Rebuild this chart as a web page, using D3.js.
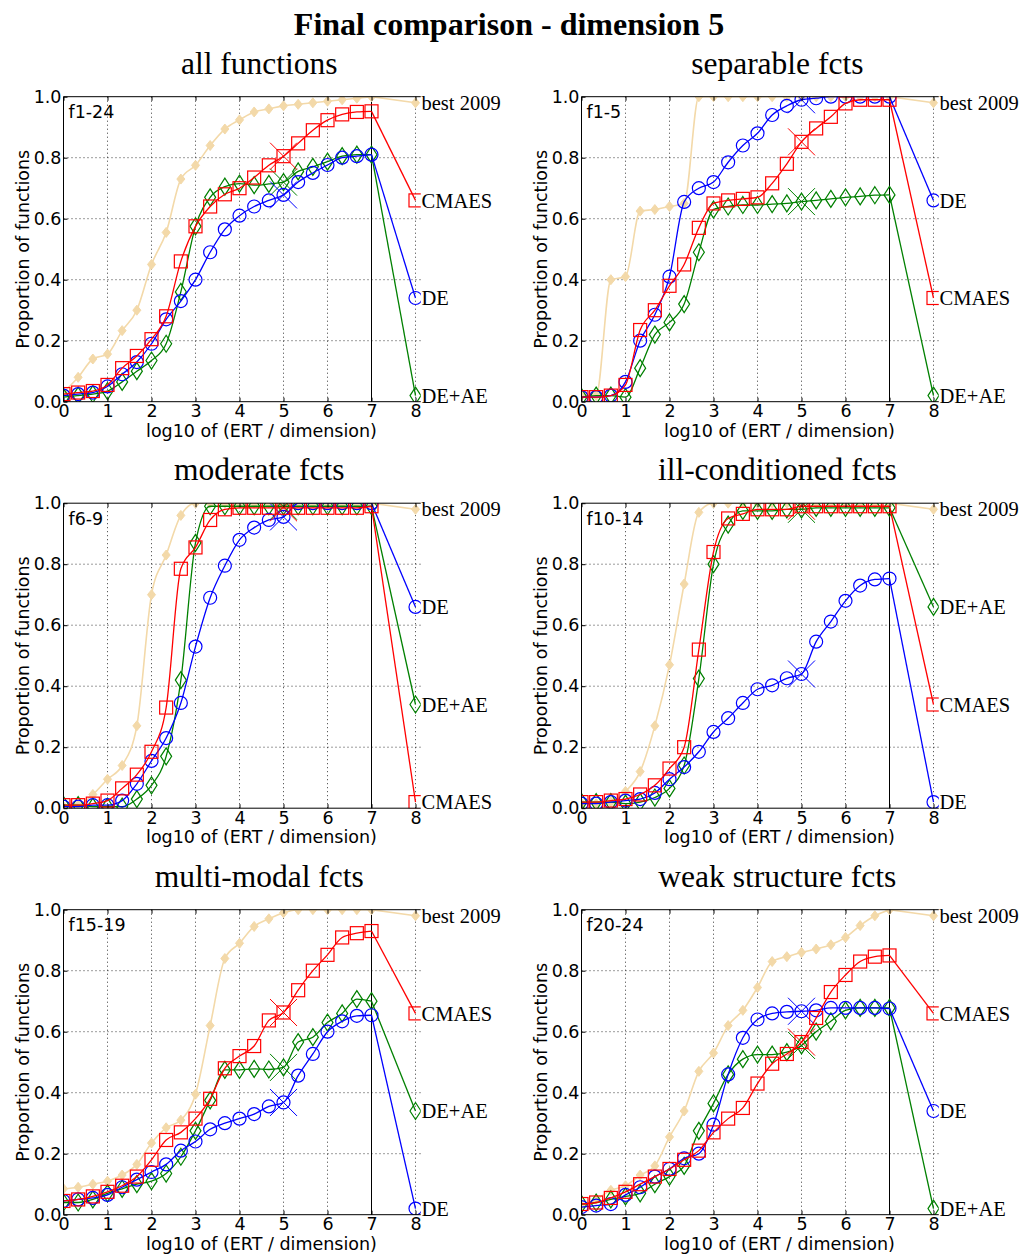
<!DOCTYPE html>
<html><head><meta charset="utf-8">
<script src="https://cdn.jsdelivr.net/npm/d3@7"></script>
<style>body{margin:0;background:#fff} svg{display:block}</style>
</head><body>
<script>
// ---------- DATA ----------
const xMarks = [0,0.333,0.667,1,1.333,1.667,2,2.333,2.667,3,3.333,3.667,4,4.333,4.667,5,5.333,5.667,6,6.333,6.667,7];
const panelTitles = ["all functions","separable fcts","moderate fcts","ill-conditioned fcts","multi-modal fcts","weak structure fcts"];
const funcLabels = ["f1-24","f1-5","f6-9","f10-14","f15-19","f20-24"];
const seriesNames = ["best 2009","CMAES","DE","DE+AE"];
const xTicks = [0,1,2,3,4,5,6,7,8];
const yTicks = [0,0.2,0.4,0.6,0.8,1.0];

const best2009 = [
 [0.03,0.08,0.14,0.156,0.233,0.30,0.45,0.555,0.73,0.775,0.84,0.894,0.924,0.95,0.96,0.97,0.975,0.98,0.985,0.99,0.995,1.0],
 [0.02,0.02,0.40,0.41,0.625,0.63,0.64,0.65,1,1,1,1,1,1,1,1,1,1,1,1,1,1],
 [0.005,0.01,0.045,0.095,0.14,0.27,0.70,0.83,0.96,1,1,1,1,1,1,1,1,1,1,1,1,1],
 [0.015,0.015,0.02,0.055,0.12,0.27,0.47,0.735,0.97,1,1,1,1,1,1,1,1,1,1,1,1,1],
 [0.085,0.09,0.10,0.11,0.13,0.165,0.235,0.285,0.31,0.395,0.62,0.84,0.89,0.945,0.97,0.99,1,1,1,1,1,1],
 [0.03,0.05,0.08,0.095,0.13,0.16,0.255,0.34,0.47,0.53,0.62,0.67,0.745,0.83,0.846,0.86,0.871,0.885,0.909,0.948,0.98,1.0]
];
const cmaes = [
 [0.025,0.03,0.035,0.055,0.11,0.15,0.205,0.28,0.46,0.575,0.64,0.68,0.70,0.735,0.775,0.805,0.847,0.89,0.923,0.942,0.95,0.952],
 [0.015,0.015,0.02,0.055,0.235,0.30,0.38,0.45,0.57,0.65,0.66,0.665,0.67,0.716,0.78,0.852,0.896,0.934,0.978,0.99,0.99,0.99],
 [0.01,0.01,0.015,0.025,0.065,0.11,0.185,0.33,0.785,0.855,0.945,0.98,0.985,0.985,0.985,0.985,0.985,0.985,0.985,0.985,0.985,0.99],
 [0.02,0.02,0.025,0.03,0.045,0.075,0.13,0.20,0.52,0.84,0.95,0.965,0.98,0.98,0.98,0.99,0.99,0.99,0.99,0.99,0.99,0.99],
 [0.045,0.05,0.06,0.075,0.095,0.125,0.18,0.245,0.27,0.315,0.38,0.48,0.52,0.553,0.637,0.663,0.736,0.80,0.852,0.909,0.923,0.93],
 [0.035,0.04,0.055,0.075,0.10,0.125,0.15,0.18,0.21,0.27,0.315,0.35,0.43,0.495,0.527,0.566,0.645,0.73,0.786,0.83,0.846,0.85]
];
const de = [
 [0.02,0.025,0.03,0.05,0.09,0.13,0.19,0.27,0.33,0.40,0.49,0.565,0.61,0.64,0.66,0.678,0.72,0.75,0.776,0.80,0.805,0.81],
 [0.015,0.015,0.02,0.065,0.20,0.285,0.41,0.655,0.70,0.72,0.785,0.84,0.88,0.94,0.97,0.99,0.995,1,1,1,1,1],
 [0.005,0.005,0.01,0.01,0.025,0.08,0.155,0.23,0.345,0.53,0.69,0.795,0.88,0.92,0.945,0.955,1,1,1,1,1,1],
 [0.015,0.015,0.02,0.025,0.03,0.05,0.095,0.135,0.185,0.25,0.295,0.345,0.39,0.403,0.426,0.44,0.546,0.612,0.68,0.73,0.75,0.753],
 [0.045,0.05,0.055,0.065,0.09,0.115,0.14,0.165,0.21,0.24,0.28,0.30,0.315,0.33,0.355,0.368,0.456,0.527,0.60,0.634,0.652,0.654],
 [0.025,0.03,0.035,0.065,0.09,0.125,0.15,0.185,0.20,0.295,0.46,0.58,0.64,0.66,0.665,0.667,0.67,0.678,0.678,0.678,0.678,0.676]
];
const deae = [
 [0.015,0.02,0.025,0.035,0.065,0.10,0.135,0.19,0.36,0.575,0.67,0.705,0.715,0.71,0.714,0.72,0.755,0.77,0.787,0.805,0.81,0.81],
 [0.015,0.02,0.02,0.015,0.11,0.22,0.26,0.32,0.49,0.63,0.64,0.645,0.645,0.648,0.65,0.656,0.66,0.665,0.67,0.673,0.677,0.678],
 [0.01,0.01,0.005,0.005,0.005,0.03,0.075,0.17,0.42,0.87,0.99,0.99,0.99,0.99,0.99,0.99,0.99,0.99,0.99,0.99,0.99,0.99],
 [0.02,0.02,0.02,0.015,0.02,0.035,0.065,0.14,0.425,0.80,0.93,0.975,0.975,0.975,0.98,0.98,0.985,0.985,0.985,0.985,0.985,0.985],
 [0.04,0.04,0.05,0.07,0.085,0.10,0.11,0.135,0.19,0.275,0.375,0.475,0.475,0.478,0.476,0.483,0.566,0.582,0.63,0.66,0.707,0.70],
 [0.035,0.04,0.05,0.06,0.07,0.10,0.125,0.16,0.275,0.365,0.46,0.51,0.525,0.525,0.533,0.555,0.60,0.634,0.67,0.678,0.678,0.678]
];
// label positions at x = 8 : [best 2009, CMAES, DE, DE+AE]
const endY = [
 [0.98,0.66,0.34,0.02],
 [0.98,0.34,0.66,0.02],
 [0.98,0.02,0.66,0.34],
 [0.98,0.34,0.02,0.66],
 [0.98,0.66,0.02,0.34],
 [0.98,0.66,0.34,0.02]
];
const maxEvalX = 5;

// ---------- LAYOUT ----------
const W = 1023, H = 1255;
const colLeft = [63.5, 581.5];
const rowTop = [96.7, 503.2, 909.7];
const plotW8 = 352, plotH = 305, xMax = 8.12;
const SANS = "DejaVu Sans", SERIF = "Liberation Serif";
const colors = {"best 2009":"#f3d9a9","CMAES":"#ff0000","DE":"#0000ff","DE+AE":"#008000"};

const svg = d3.select("body").append("svg").attr("width", W).attr("height", H);

svg.append("text").attr("x", 509).attr("y", 35).attr("text-anchor","middle")
  .attr("font-family", SERIF).attr("font-weight","bold").attr("font-size", 32)
  .text("Final comparison - dimension 5");

const sym = {
  circle: g => g.append("circle").attr("r", 6.5),
  square: g => g.append("rect").attr("x",-6.5).attr("y",-6.5).attr("width",13).attr("height",13),
  diamond: g => g.append("path").attr("d","M0,-8.5L5.5,0L0,8.5L-5.5,0Z"),
  best: g => g.append("path").attr("d","M0,-5L4,0L0,5L-4,0Z")
};

for (let p = 0; p < 6; p++) {
  const L = colLeft[p % 2], T = rowTop[Math.floor(p / 2)];
  const x = d3.scaleLinear().domain([0, 8]).range([L, L + plotW8]);
  const y = d3.scaleLinear().domain([0, 1]).range([T + plotH, T]);
  const g = svg.append("g");

  const clipId = "clip" + p;
  svg.append("clipPath").attr("id", clipId).append("rect")
    .attr("x", x(0)).attr("y", y(1)).attr("width", x(xMax) - x(0)).attr("height", y(0) - y(1));

  // grid
  g.selectAll(".vg").data(xTicks.filter(d => d > 0)).join("line")
    .attr("x1", d => x(d)).attr("x2", d => x(d)).attr("y1", y(0)).attr("y2", y(1))
    .attr("stroke", "#222").attr("stroke-width", 0.9).attr("stroke-dasharray", "1,3");
  g.selectAll(".hg").data(yTicks.filter(d => d > 0 && d < 1)).join("line")
    .attr("x1", x(0)).attr("x2", x(xMax)).attr("y1", d => y(d)).attr("y2", d => y(d))
    .attr("stroke", "#222").attr("stroke-width", 0.9).attr("stroke-dasharray", "1,3");
  // vertical line at 7
  g.append("line").attr("x1", x(7)).attr("x2", x(7)).attr("y1", y(0)).attr("y2", y(1))
    .attr("stroke", "#000").attr("stroke-width", 1);

  const plot = g.append("g").attr("clip-path", `url(#${clipId})`);
  const all = [
    {name:"best 2009", vals:best2009[p], sym:"best", end:endY[p][0]},
    {name:"DE+AE", vals:deae[p], sym:"diamond", end:endY[p][3]},
    {name:"DE", vals:de[p], sym:"circle", end:endY[p][2]},
    {name:"CMAES", vals:cmaes[p], sym:"square", end:endY[p][1]}
  ];
  const line = d3.line().x(d => x(d[0])).y(d => y(d[1])).curve(d3.curveMonotoneX);
  all.forEach(s => {
    const c = colors[s.name];
    const pts = xMarks.map((xv, i) => [xv, s.vals[i]]);
    plot.append("path").attr("d", line(pts)).attr("fill","none").attr("stroke", c)
      .attr("stroke-width", s.name === "best 2009" ? 1.6 : 1.3);
    plot.append("path").attr("d", d3.line().x(d => x(d[0])).y(d => y(d[1]))([pts[pts.length-1], [8, s.end]]))
      .attr("fill","none").attr("stroke", c).attr("stroke-width", s.name === "best 2009" ? 1.6 : 1.3);
    const mk = pts.concat([[8, s.end]]);
    mk.forEach(d => {
      const mg = plot.append("g").attr("transform", `translate(${x(d[0])},${y(d[1])})`);
      const el = sym[s.sym](mg);
      if (s.sym === "best") el.attr("fill", c).attr("stroke", c).attr("stroke-width", 1);
      else el.attr("fill", "none").attr("stroke", c).attr("stroke-width", 1.2);
    });
    if (s.name !== "best 2009") {
      const iv = xMarks.indexOf(maxEvalX);
      const cx = x(maxEvalX), cy = y(s.vals[iv]), h = 13.5;
      plot.append("path").attr("d", `M${cx-h},${cy-h}L${cx+h},${cy+h}M${cx-h},${cy+h}L${cx+h},${cy-h}`)
        .attr("stroke", c).attr("stroke-width", 1).attr("fill", "none");
    }
    g.append("text").attr("x", x(8) + 6).attr("y", y(s.end)).attr("dy", "0.35em")
      .attr("font-family", SERIF).attr("font-size", 20.5).text(s.name);
  });

  // frame (no right spine)
  g.append("path").attr("d", `M${x(xMax)},${y(1)}H${x(0)}V${y(0)}H${x(xMax)}`)
    .attr("fill","none").attr("stroke","#000").attr("stroke-width",1);

  // axes
  const xa = g.append("g").attr("transform", `translate(0,${y(0)})`)
    .call(d3.axisBottom(x).tickValues(xTicks).tickSize(-4).tickPadding(3).tickFormat(d3.format("d")));
  const ya = g.append("g").attr("transform", `translate(${x(0)},0)`)
    .call(d3.axisLeft(y).tickValues(yTicks).tickSize(-4).tickPadding(2).tickFormat(d3.format(".1f")));
  [xa, ya].forEach(a => {
    a.select(".domain").remove();
    a.selectAll("line").attr("stroke", "#000");
    a.selectAll("text").attr("font-family", SANS).attr("font-size", 17.5).attr("fill", "#000");
  });
  g.append("g").attr("transform", `translate(0,${y(1)})`)
    .call(d3.axisTop(x).tickValues(xTicks).tickSize(-4).tickFormat(""))
    .call(a => a.select(".domain").remove());

  // texts
  g.append("text").attr("x", x(4.45)).attr("y", T - 23).attr("text-anchor","middle")
    .attr("font-family", SERIF).attr("font-size", 31.5).text(panelTitles[p]);
  g.append("text").attr("x", x(0) + 5).attr("y", T + 21.5)
    .attr("font-family", SANS).attr("font-size", 17.5).text(funcLabels[p]);
  g.append("text").attr("x", x(4.5)).attr("y", y(0) + 35).attr("text-anchor","middle")
    .attr("font-family", SANS).attr("font-size", 17.5).text("log10 of (ERT / dimension)");
  g.append("text").attr("transform", `translate(${x(0) - 35},${T + plotH/2}) rotate(-90)`)
    .attr("text-anchor","middle").attr("font-family", SANS).attr("font-size", 17.5)
    .text("Proportion of functions");
}
</script>
</body></html>
